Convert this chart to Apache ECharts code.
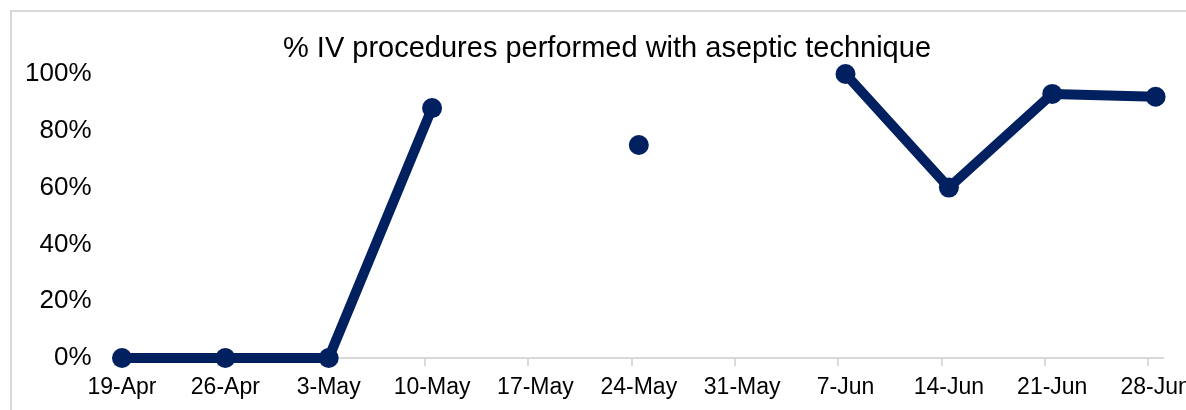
<!DOCTYPE html>
<html>
<head>
<meta charset="utf-8">
<script src="https://cdn.jsdelivr.net/npm/echarts@6/dist/echarts.min.js"></script>
<style>
html,body{margin:0;padding:0;background:#fff;width:1186px;height:410px;overflow:hidden;}
#frame{position:absolute;left:10px;top:10px;width:1200px;height:420px;border:2px solid #d9d9d9;box-sizing:border-box;}
#chart{position:absolute;left:0;top:0;width:1186px;height:410px;}
</style>
</head>
<body>
<div id="frame"></div>
<div id="chart"></div>
<script>
// Data
const categories = ['19-Apr','26-Apr','3-May','10-May','17-May','24-May','31-May','7-Jun','14-Jun','21-Jun','28-Jun'];
const asepticPct = [0, 0, 0, 0.88, null, 0.75, null, 1.00, 0.60, 0.93, 0.92];
const yTickLabels = ['0%','20%','40%','60%','80%','100%'];
const chartTitle = '% IV procedures performed with aseptic technique';

// week index -> day offset on a daily axis (point sits in the middle of its day)
const DAYS_PER_WEEK = 7;
const seriesData = categories.map((c, i) => [i * DAYS_PER_WEEK + 0.5, asepticPct[i]]);
const tickDays = categories.map((c, i) => i * DAYS_PER_WEEK);
const labelDays = categories.map((c, i) => i * DAYS_PER_WEEK + 0.5);

const chart = echarts.init(document.getElementById('chart'), null, {renderer: 'canvas'});
chart.setOption({
  animation: false,
  backgroundColor: 'transparent',
  title: {
    text: chartTitle,
    left: 602,
    top: 29,
    textAlign: 'center',
    textStyle: {fontFamily: 'Liberation Sans, Arial, sans-serif', fontSize: 29, fontWeight: 'normal', color: '#000'}
  },
  grid: {left: 114.6, right: 23, top: 74, bottom: 52, containLabel: false, outerBoundsMode: 'none'},
  xAxis: {
    type: 'value',
    min: 0,
    max: (categories.length - 1) * DAYS_PER_WEEK + 1,
    splitLine: {show: false},
    axisLine: {show: true, lineStyle: {color: '#d9d9d9', width: 2}},
    axisTick: {show: true, customValues: tickDays, length: 8, lineStyle: {color: '#d9d9d9', width: 2}},
    axisLabel: {
      customValues: labelDays,
      margin: 18,
      fontFamily: 'Liberation Sans, Arial, sans-serif',
      fontSize: 23,
      color: '#000',
      hideOverlap: false,
      formatter: v => categories[Math.round((v - 0.5) / DAYS_PER_WEEK)] || ''
    }
  },
  yAxis: {
    type: 'value',
    min: 0,
    max: 1,
    interval: 0.2,
    splitLine: {show: false},
    axisLine: {show: false},
    axisTick: {show: false},
    axisLabel: {
      margin: 23,
      padding: [4, 0, 0, 0],
      fontFamily: 'Liberation Sans, Arial, sans-serif',
      fontSize: 26,
      color: '#000',
      formatter: v => yTickLabels[Math.round(v / 0.2)]
    }
  },
  series: [{
    type: 'line',
    data: seriesData,
    connectNulls: false,
    symbol: 'circle',
    symbolSize: 20,
    lineStyle: {color: '#002060', width: 10},
    itemStyle: {color: '#002060'},
    z: 3
  }]
});
</script>
</body>
</html>
